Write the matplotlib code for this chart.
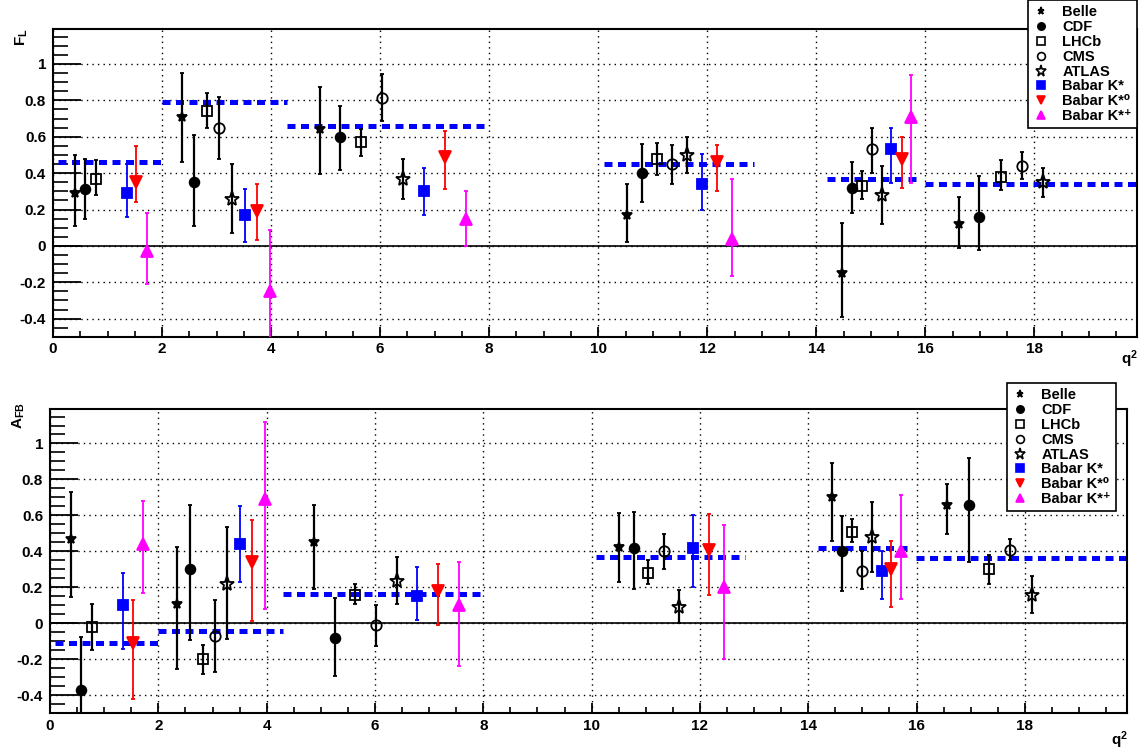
import numpy as np
import matplotlib
matplotlib.use("Agg")
import matplotlib.pyplot as plt
from matplotlib.lines import Line2D
from matplotlib.ticker import MultipleLocator, FormatStrFormatter

plt.rcParams['font.family'] = ['Liberation Sans', 'DejaVu Sans']
plt.rcParams['font.weight'] = 'bold'
plt.rcParams['mathtext.fontset'] = 'custom'
plt.rcParams['mathtext.rm'] = 'Liberation Sans:bold'
plt.rcParams['mathtext.it'] = 'Liberation Sans:bold'
plt.rcParams['mathtext.bf'] = 'Liberation Sans:bold'
plt.rcParams['mathtext.default'] = 'rm'

# ---------------- F_L data (x, value, upper end, lower end) ----------------
fl_belle_x = [0.40, 2.36, 4.89, 10.53, 14.47, 16.61]
fl_belle_y = [0.29, 0.71, 0.64, 0.17, -0.15, 0.12]
fl_belle_hi = [0.50, 0.95, 0.875, 0.34, 0.127, 0.27]
fl_belle_lo = [0.108, 0.46, 0.395, 0.02, -0.39, -0.009]

fl_cdf_x = [0.59, 2.59, 5.27, 10.80, 14.65, 16.99]
fl_cdf_y = [0.31, 0.35, 0.60, 0.40, 0.32, 0.16]
fl_cdf_hi = [0.48, 0.61, 0.77, 0.56, 0.46, 0.385]
fl_cdf_lo = [0.15, 0.11, 0.417, 0.24, 0.18, -0.024]

fl_lhcb_x = [0.78, 2.83, 5.65, 11.08, 14.84, 17.38]
fl_lhcb_y = [0.37, 0.74, 0.57, 0.48, 0.33, 0.38]
fl_lhcb_hi = [0.47, 0.84, 0.644, 0.565, 0.41, 0.47]
fl_lhcb_lo = [0.28, 0.65, 0.495, 0.387, 0.257, 0.307]

fl_cms_x = [3.05, 6.04, 11.36, 15.02, 17.77]
fl_cms_y = [0.65, 0.81, 0.45, 0.53, 0.44]
fl_cms_hi = [0.82, 0.945, 0.554, 0.65, 0.514]
fl_cms_lo = [0.48, 0.685, 0.338, 0.40, 0.365]

fl_atlas_x = [3.28, 6.42, 11.63, 15.20, 18.16]
fl_atlas_y = [0.26, 0.37, 0.50, 0.28, 0.35]
fl_atlas_hi = [0.45, 0.48, 0.596, 0.44, 0.43]
fl_atlas_lo = [0.07, 0.26, 0.40, 0.12, 0.27]

fl_kst_x = [1.35, 3.52, 6.80, 11.91, 15.37]
fl_kst_y = [0.29, 0.17, 0.30, 0.34, 0.53]
fl_kst_hi = [0.45, 0.31, 0.43, 0.505, 0.65]
fl_kst_lo = [0.16, 0.02, 0.17, 0.198, 0.347]

fl_k0_x = [1.53, 3.74, 7.18, 12.18, 15.57]
fl_k0_y = [0.35, 0.19, 0.49, 0.46, 0.48]
fl_k0_hi = [0.55, 0.34, 0.63, 0.556, 0.60]
fl_k0_lo = [0.24, 0.03, 0.31, 0.30, 0.32]

fl_kp_x = [1.73, 3.98, 7.57, 12.46, 15.74]
fl_kp_y = [-0.03, -0.25, 0.15, 0.04, 0.71]
fl_kp_hi = [0.18, 0.09, 0.30, 0.365, 0.94]
fl_kp_lo = [-0.21, -0.6, 0.0, -0.167, 0.347]

# SM bins: (start, end, value)
fl_sm = [(0.1, 2.0, 0.46), (2.0, 4.3, 0.79), (4.3, 8.0, 0.66),
         (10.1, 12.86, 0.45), (14.2, 15.9, 0.367), (16.0, 19.9, 0.342)]

# ---------------- A_FB data ----------------
afb_belle_x = [0.39, 2.35, 4.87, 10.50, 14.43, 16.57]
afb_belle_y = [0.47, 0.11, 0.45, 0.425, 0.70, 0.66]
afb_belle_hi = [0.73, 0.425, 0.66, 0.612, 0.89, 0.776]
afb_belle_lo = [0.148, -0.255, 0.19, 0.23, 0.46, 0.496]

afb_cdf_x = [0.57, 2.58, 5.26, 10.78, 14.62, 16.96]
afb_cdf_y = [-0.37, 0.30, -0.08, 0.42, 0.40, 0.66]
afb_cdf_hi = [-0.078, 0.66, 0.14, 0.618, 0.595, 0.92]
afb_cdf_lo = [-0.6, -0.09, -0.29, 0.189, 0.18, 0.34]

afb_lhcb_x = [0.775, 2.82, 5.64, 11.05, 14.81, 17.34]
afb_lhcb_y = [-0.02, -0.20, 0.16, 0.28, 0.51, 0.30]
afb_lhcb_hi = [0.11, -0.12, 0.22, 0.353, 0.58, 0.38]
afb_lhcb_lo = [-0.15, -0.28, 0.108, 0.217, 0.455, 0.22]

afb_cms_x = [3.04, 6.02, 11.33, 14.99, 17.73]
afb_cms_y = [-0.07, -0.01, 0.40, 0.29, 0.41]
afb_cms_hi = [0.129, 0.10, 0.496, 0.40, 0.468]
afb_cms_lo = [-0.27, -0.125, 0.304, 0.19, 0.35]

afb_atlas_x = [3.27, 6.40, 11.61, 15.17, 18.13]
afb_atlas_y = [0.22, 0.235, 0.09, 0.478, 0.16]
afb_atlas_hi = [0.537, 0.37, 0.183, 0.674, 0.263]
afb_atlas_lo = [-0.087, 0.108, 0.0, 0.286, 0.058]

afb_kst_x = [1.35, 3.50, 6.78, 11.88, 15.36]
afb_kst_y = [0.10, 0.44, 0.15, 0.42, 0.29]
afb_kst_hi = [0.278, 0.65, 0.313, 0.60, 0.40]
afb_kst_lo = [-0.14, 0.23, 0.019, 0.204, 0.133]

afb_k0_x = [1.54, 3.73, 7.16, 12.16, 15.53]
afb_k0_y = [-0.11, 0.34, 0.18, 0.41, 0.30]
afb_k0_hi = [0.129, 0.573, 0.332, 0.608, 0.46]
afb_k0_lo = [-0.418, 0.011, -0.009, 0.157, 0.092]

afb_kp_x = [1.72, 3.97, 7.55, 12.44, 15.71]
afb_kp_y = [0.44, 0.69, 0.10, 0.20, 0.40]
afb_kp_hi = [0.68, 1.12, 0.343, 0.549, 0.715]
afb_kp_lo = [0.17, 0.08, -0.237, -0.2, 0.133]

afb_sm = [(0.1, 2.0, -0.11), (2.0, 4.3, -0.045), (4.3, 8.0, 0.164),
          (10.09, 12.84, 0.37), (14.18, 15.87, 0.418), (15.99, 19.9, 0.364)]

labels = ['Belle', 'CDF', 'LHCb', 'CMS', 'ATLAS',
          'Babar K*', 'Babar K*\u2070', 'Babar K*\u207a']

# marker, size, face colour, edge colour, error colour, error width
styles = [
    ('*', 7, 'black', 'black', 'black', 1.6),
    ('o', 7, 'black', 'black', 'black', 1.6),
    ('s', 7.5, 'none', 'black', 'black', 1.6),
    ('o', 7.5, 'none', 'black', 'black', 1.6),
    ('*', 11, 'none', 'black', 'black', 1.6),
    ('s', 7, 'blue', 'blue', 'blue', 1.3),
    ('v', 8, 'red', 'red', 'red', 1.3),
    ('^', 8, 'magenta', 'magenta', 'magenta', 1.3),
]

fl_sets = [
    (fl_belle_x, fl_belle_y, fl_belle_hi, fl_belle_lo),
    (fl_cdf_x, fl_cdf_y, fl_cdf_hi, fl_cdf_lo),
    (fl_lhcb_x, fl_lhcb_y, fl_lhcb_hi, fl_lhcb_lo),
    (fl_cms_x, fl_cms_y, fl_cms_hi, fl_cms_lo),
    (fl_atlas_x, fl_atlas_y, fl_atlas_hi, fl_atlas_lo),
    (fl_kst_x, fl_kst_y, fl_kst_hi, fl_kst_lo),
    (fl_k0_x, fl_k0_y, fl_k0_hi, fl_k0_lo),
    (fl_kp_x, fl_kp_y, fl_kp_hi, fl_kp_lo),
]
afb_sets = [
    (afb_belle_x, afb_belle_y, afb_belle_hi, afb_belle_lo),
    (afb_cdf_x, afb_cdf_y, afb_cdf_hi, afb_cdf_lo),
    (afb_lhcb_x, afb_lhcb_y, afb_lhcb_hi, afb_lhcb_lo),
    (afb_cms_x, afb_cms_y, afb_cms_hi, afb_cms_lo),
    (afb_atlas_x, afb_atlas_y, afb_atlas_hi, afb_atlas_lo),
    (afb_kst_x, afb_kst_y, afb_kst_hi, afb_kst_lo),
    (afb_k0_x, afb_k0_y, afb_k0_hi, afb_k0_lo),
    (afb_kp_x, afb_kp_y, afb_kp_hi, afb_kp_lo),
]

fig = plt.figure(figsize=(11.45, 7.52), dpi=100)
ax1 = fig.add_axes([0.0463, 0.552, 0.9467, 0.409])
ax2 = fig.add_axes([0.0437, 0.0515, 0.9403, 0.4042])


def draw_panel(ax, sets, sm):
    for (x0, x1, v) in sm:
        ax.plot([x0, x1], [v, v], color='blue', lw=3.6, ls=(0, (1.6, 1.1)),
                solid_capstyle='butt', dash_capstyle='butt', zorder=2)
    ax.axhline(0, color='black', lw=1.2, zorder=1)
    for (x, y, hi, lo), st in zip(sets, styles):
        x = np.array(x); y = np.array(y)
        err = [y - np.array(lo), np.array(hi) - y]
        ax.errorbar(x, y, yerr=err, fmt=st[0], ms=st[1], mfc=st[2], mec=st[3],
                    mew=1.3, ecolor=st[4], elinewidth=st[5], capsize=1.6,
                    capthick=1.3, zorder=3)
    ax.set_xlim(0, 19.88)
    ax.set_ylim(-0.5, 1.19)
    ax.xaxis.set_major_locator(MultipleLocator(2))
    ax.xaxis.set_minor_locator(MultipleLocator(0.5))
    ax.yaxis.set_major_locator(MultipleLocator(0.2))
    ax.yaxis.set_minor_locator(MultipleLocator(0.05))
    ax.xaxis.set_major_formatter(FormatStrFormatter('%g'))
    ax.yaxis.set_major_formatter(plt.FuncFormatter(lambda v, p: '%g' % round(v, 2)))
    ax.grid(True, which='major', color='black', ls=(0, (1, 3)), lw=1.0)
    ax.tick_params(axis='y', which='major', direction='in', length=20, width=1.3,
                   labelsize=11, pad=5)
    ax.tick_params(axis='y', which='minor', direction='in', length=11, width=1.2)
    ax.tick_params(axis='x', which='major', direction='in', length=7, width=1.3,
                   labelsize=11, pad=4)
    ax.tick_params(axis='x', which='minor', direction='in', length=4, width=1.2)
    for lab in ax.get_xticklabels() + ax.get_yticklabels():
        lab.set_fontweight('bold')
    for s in ax.spines.values():
        s.set_linewidth(1.5)


draw_panel(ax1, fl_sets, fl_sm)
draw_panel(ax2, afb_sets, afb_sm)

handles = [Line2D([], [], ls='none', marker=st[0], ms=st[1] * 0.75, mfc=st[2],
                  mec=st[3], mew=1.2) for st in styles]

for ax, anchor in [(ax1, (1137 / 1145, 1.0)), (ax2, (1116 / 1145, 1 - 383 / 752))]:
    leg = fig.legend(handles, labels, loc='upper right', bbox_to_anchor=anchor,
                     frameon=True, fancybox=False, edgecolor='black',
                     framealpha=1, labelspacing=0.06, handlelength=1.1,
                     handletextpad=0.9, borderpad=0.35, borderaxespad=0,
                     prop={'family': ['Liberation Sans', 'DejaVu Sans'],
                           'weight': 'bold', 'size': 10.5})
    leg.get_frame().set_linewidth(1.2)

fig.text(0.012, 0.951, r'F$_{L}$', rotation=90, fontsize=11, fontweight='bold',
         va='center', ha='left')
fig.text(0.009, 0.447, r'A$_{FB}$', rotation=90, fontsize=11, fontweight='bold',
         va='center', ha='left')
fig.text(0.994, 0.522, r'q$^{2}$', fontsize=11, fontweight='bold', ha='right', va='center')
fig.text(0.985, 0.016, r'q$^{2}$', fontsize=11, fontweight='bold', ha='right', va='center')

fig.savefig('out.png', dpi=100)
